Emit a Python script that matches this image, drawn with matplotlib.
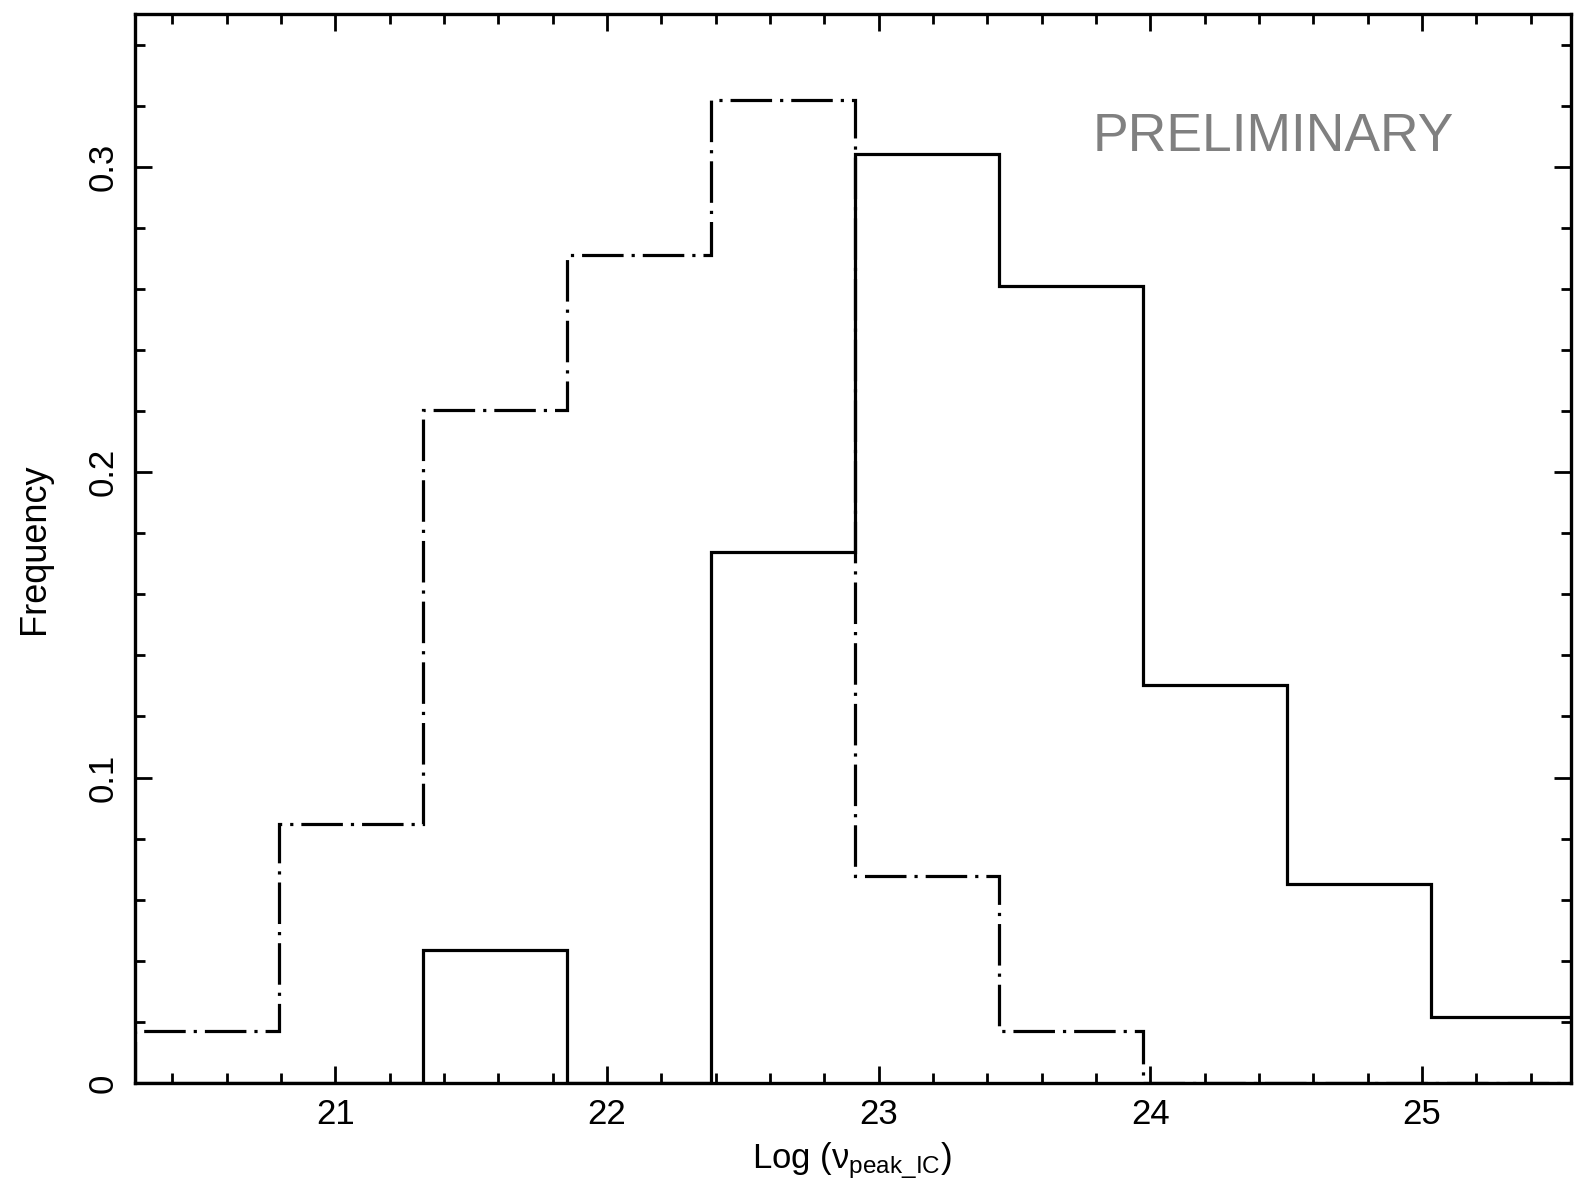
import numpy as np
import matplotlib
matplotlib.use("Agg")
import matplotlib.pyplot as plt
from matplotlib.ticker import MultipleLocator

plt.rcParams['font.family'] = ['Liberation Sans', 'DejaVu Sans']
plt.rcParams['mathtext.fontset'] = 'custom'
plt.rcParams['mathtext.rm'] = 'Liberation Sans'
plt.rcParams['mathtext.it'] = 'Liberation Sans:italic'

# границы бинов (Log nu_peak_IC)
bin_edges = [20.263, 20.793, 21.323, 21.853, 22.383, 22.913,
             23.443, 23.973, 24.503, 25.033, 25.563]

# штрих-пунктир
freq_dashdot = [0.0170, 0.0847, 0.2203, 0.2712, 0.3220, 0.0678, 0.0170, 0.0, 0.0, 0.0]
# сплошная
freq_solid = [0.0, 0.0, 0.0435, 0.0, 0.1739, 0.3043, 0.2609, 0.1304, 0.0652, 0.0217]

x_ticks = [21, 22, 23, 24, 25]
y_ticks = [0, 0.1, 0.2, 0.3]
y_ticklabels = ['0', '0.1', '0.2', '0.3']

fig = plt.figure(figsize=(15.74, 11.85), dpi=100)
ax = fig.add_axes([0.0858, 0.0861, 0.9123, 0.9021])

ax.stairs(freq_dashdot, bin_edges, color='black', lw=2.3,
          linestyle=(0, (13, 2.5, 1, 2.5)), baseline=0)
ax.stairs(freq_solid, bin_edges, color='black', lw=2.3, baseline=0)

ax.set_xlim(20.263, 25.548)
ax.set_ylim(0, 0.35)

ax.set_xticks(x_ticks)
ax.set_yticks(y_ticks)
ax.set_yticklabels(y_ticklabels)
ax.xaxis.set_minor_locator(MultipleLocator(0.2))
ax.yaxis.set_minor_locator(MultipleLocator(0.02))

ax.tick_params(which='both', direction='in', top=True, right=True, width=2)
ax.tick_params(which='major', length=12)
ax.tick_params(which='minor', length=7)
ax.tick_params(axis='x', labelsize=25, pad=11)
ax.tick_params(axis='y', labelsize=25, pad=11, labelrotation=90)
for lbl in ax.get_yticklabels():
    lbl.set_va('center')

for s in ax.spines.values():
    s.set_linewidth(2.4)

ax.set_ylabel("Frequency", fontsize=26)
ax.yaxis.set_label_coords(-0.058, 0.5)
ax.set_xlabel(r'Log ($\mathrm{\nu_{peak\_IC}}$)', fontsize=25)
ax.xaxis.set_label_coords(0.499, -0.054)

ax.text(0.7925, 0.872, "PRELIMINARY", transform=ax.transAxes,
        fontsize=38.5, color='#808080', ha='center', va='baseline')

fig.savefig("out.png", dpi=100)
